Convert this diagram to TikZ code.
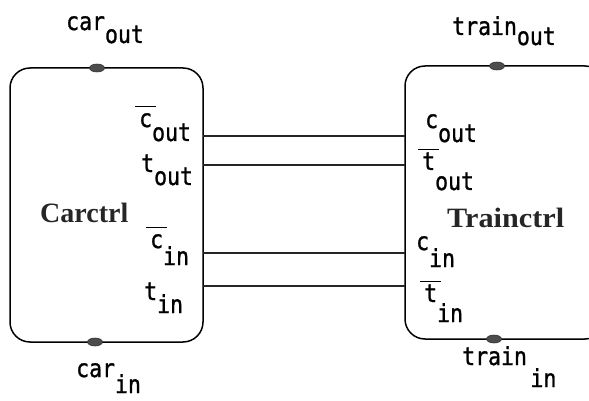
\documentclass[tikz,border=0pt]{standalone}
\usepackage{fontspec}
\setmonofont[FakeBold=1.2]{DejaVu Sans Mono}
\newfontfamily\ttlfont{Liberation Serif}
\usetikzlibrary{shapes.geometric}
\newcommand\obar[1]{\ooalign{#1\cr\hidewidth\rule[0.8em]{0.95em}{1.3pt}\hidewidth\cr}}
\newcommand\lab[3]{\scalebox{1}[1.15]{#1}\raisebox{-#3pt}{\scalebox{1}[1.15]{#2}}}
\tikzset{
  box/.style={draw, line width=1.5pt, rounded corners=20pt, rectangle, inner sep=0pt},
  port/.style={ellipse, fill=black!70, draw=black!80, line width=0.6pt, minimum width=15pt, minimum height=8pt, inner sep=0pt},
  wire/.style={line width=1.3pt, black!85},
  lbl/.style={anchor=base west, inner sep=0pt, font=\fontsize{21.5}{24}\ttfamily},
  ttl/.style={anchor=base west, inner sep=0pt, font=\fontsize{28}{30}\ttlfont\bfseries, black!85},
}
\begin{document}
\begin{tikzpicture}[x=1pt,y=-1pt]
\useasboundingbox (0,0) rectangle (589,401);
\clip (0,0) rectangle (589,401);
% boxes
\node[box, minimum width=193pt, minimum height=274pt] (lbox) at (106.5,205) {};
\node[box, minimum width=200pt, minimum height=273pt] (rbox) at (505,202.5) {};
% ports
\node[port] (lout) at (97,68) {};
\node[port] (lin) at (95,342) {};
\node[port] (rout) at (497,66) {};
\node[port] (rin) at (494,339) {};
% wire end points
\coordinate (L1) at (203,136); \coordinate (R1) at (405,136);
\coordinate (L2) at (203,165); \coordinate (R2) at (405,165);
\coordinate (L3) at (203,253); \coordinate (R3) at (405,253);
\coordinate (L4) at (203,286); \coordinate (R4) at (405,286);
\draw[wire] (L1) -- (R1);
\draw[wire] (L2) -- (R2);
\draw[wire] (L3) -- (R3);
\draw[wire] (L4) -- (R4);
% external labels
\node[lbl] (tcarout) at (66,30) {\lab{car}{out}{13}};
\node[lbl] (ttrainout) at (452,35) {\lab{train}{out}{10}};
\node[lbl] (tcarin) at (76,377) {\lab{car}{in}{16}};
\node[lbl] (ttrainin) at (462,365) {\lab{train\,}{in}{22}};
% left internal labels
\node[lbl] (lcout) at (139,127) {\lab{\obar{c}}{out}{14}};
\node[lbl] (ltout) at (141,172) {\lab{t}{out}{13}};
\node[lbl] (lcin) at (150,248) {\lab{\obar{c}}{in}{17}};
\node[lbl] (ltin) at (144,300) {\lab{t}{in}{13}};
% right internal labels
\node[lbl] (rcout) at (425,128) {\lab{c}{out}{14}};
\node[lbl] (rtout) at (422,170) {\lab{\obar{t}}{out}{20}};
\node[lbl] (rcin) at (416,250) {\lab{c}{in}{17}};
\node[lbl] (rtin) at (424,302) {\lab{\obar{t}}{in}{20}};
% titles
\node[ttl] (carctrl) at (40,222) {Carctrl};
\node[ttl] (trainctrl) at (447,227) {\scalebox{1.08}[1]{Trainctrl}};
\end{tikzpicture}
\end{document}
